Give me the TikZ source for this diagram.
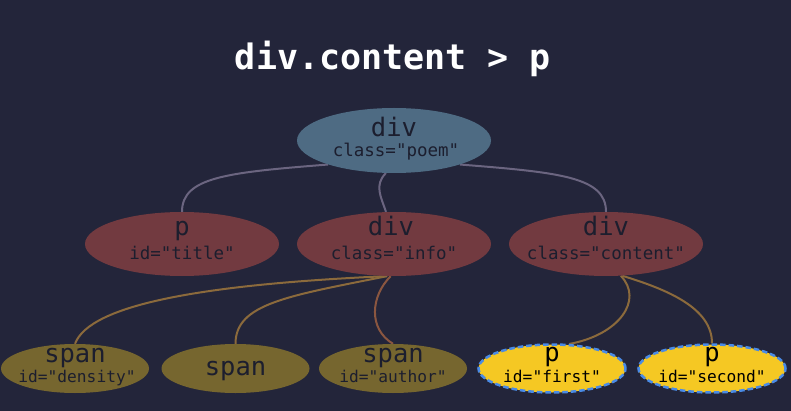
\documentclass[tikz,border=0pt]{standalone}
\usepackage{fontspec}
\setmonofont{DejaVu Sans Mono}
\usetikzlibrary{shapes.geometric}
\definecolor{bgc}{HTML}{23253A}
\definecolor{poemc}{HTML}{4E6B83}
\definecolor{redc}{HTML}{723A40}
\definecolor{olivec}{HTML}{76662F}
\definecolor{yellowc}{HTML}{F5C823}
\definecolor{bluec}{HTML}{4A8BE6}
\definecolor{txtc}{HTML}{1C1E2E}
\definecolor{etop}{HTML}{6B6580}
\definecolor{emid}{HTML}{8B6A3C}
\definecolor{eauth}{HTML}{8A5640}
\pgfdeclarelayer{edges}
\pgfsetlayers{edges,main}
\begin{document}
\begin{tikzpicture}[x=1pt,y=-1pt,
  ell/.style={ellipse, inner sep=0pt, draw=none},
  poemst/.style={ell, fill=poemc, minimum width=194pt, minimum height=65pt},
  midst/.style={ell, fill=redc, minimum width=194pt, minimum height=64pt},
  lowst/.style={ell, fill=olivec, minimum width=148pt, minimum height=49pt},
  selst/.style={ell, fill=yellowc, draw=bluec, line width=2.5pt, dash pattern=on 5.5pt off 3pt, minimum width=147pt, minimum height=48pt},
  tagt/.style={anchor=base, inner sep=0pt, text=txtc, font=\ttfamily\fontsize{25.5}{25}\selectfont},
  attrt/.style={anchor=base, inner sep=0pt, text=txtc, font=\ttfamily\fontsize{17.5}{17.5}\selectfont},
  attrs/.style={anchor=base, inner sep=0pt, text=txtc, font=\ttfamily\fontsize{16.2}{16.2}\selectfont},
  titlet/.style={anchor=base, inner sep=0pt, text=white, font=\ttfamily\bfseries\fontsize{35}{35}\selectfont},
  edge/.style={line width=2pt}
]
\begin{pgfonlayer}{edges}
\fill[bgc] (0,0) rectangle (791,411);
\end{pgfonlayer}
\useasboundingbox (0,0) rectangle (791,411);

\node[titlet] (ttl) at (393,70) {div.content > p};

% ellipses
\node[poemst] (poem) at (394,140.5) {};
\node[midst] (title) at (182,244) {};
\node[midst] (info) at (394,244) {};
\node[midst] (content) at (606,244) {};
\node[lowst] (density) at (75,368.5) {};
\node[lowst] (span) at (235.5,368.5) {};
\node[lowst] (author) at (393,368.5) {};
\node[selst] (first) at (552,368.5) {};
\node[selst] (second) at (712,368.5) {};

% labels
\node[tagt] (poemT) at (394,137) {div};
\node[attrt] (poemA) at (396,157) {class="poem"};
\node[tagt] (titleT) at (182,236) {p};
\node[attrt] (titleA) at (182,259) {id="title"};
\node[tagt] (infoT) at (391,236) {div};
\node[attrt] (infoA) at (394,259) {class="info"};
\node[tagt] (contentT) at (606,236) {div};
\node[attrt] (contentA) at (606,259) {class="content"};
\node[tagt] (densityT) at (75,362.5) {span};
\node[attrs] (densityA) at (77,382.5) {id="density"};
\node[tagt] (spanT) at (235.5,375) {span};
\node[tagt] (authorT) at (393,362.5) {span};
\node[attrs] (authorA) at (393,382.5) {id="author"};
\node[tagt, text=black] (firstT) at (552,361) {p};
\node[attrs, text=black] (firstA) at (552,382) {id="first"};
\node[tagt, text=black] (secondT) at (712,361) {p};
\node[attrs, text=black] (secondA) at (712,382) {id="second"};

% edges
\begin{pgfonlayer}{edges}
\draw[edge, etop] (poem.200) .. controls +(-100,8) and +(0,-35) .. (title.north);
\draw[edge, etop] (poem.256) .. controls +(-12,12) and +(-5,-15) .. (info.104);
\draw[edge, etop] (poem.340) .. controls +(100,8) and +(0,-35) .. (content.north);
\draw[edge, emid] (info.258) .. controls +(-180,8) and +(15,-40) .. (density.north);
\draw[edge, emid] (info.258) .. controls +(-100,20) and +(0,-40) .. (span.north);
\draw[edge, eauth] (info.264) .. controls +(-20,20) and +(-25,-15) .. (author.north);
\draw[edge, emid] (content.295) .. controls +(23,24) and +(50,-9) .. (first.55);
\draw[edge, emid] (content.297) .. controls +(46,14) and +(0,-35) .. (second.north);
\end{pgfonlayer}
\end{tikzpicture}
\end{document}
